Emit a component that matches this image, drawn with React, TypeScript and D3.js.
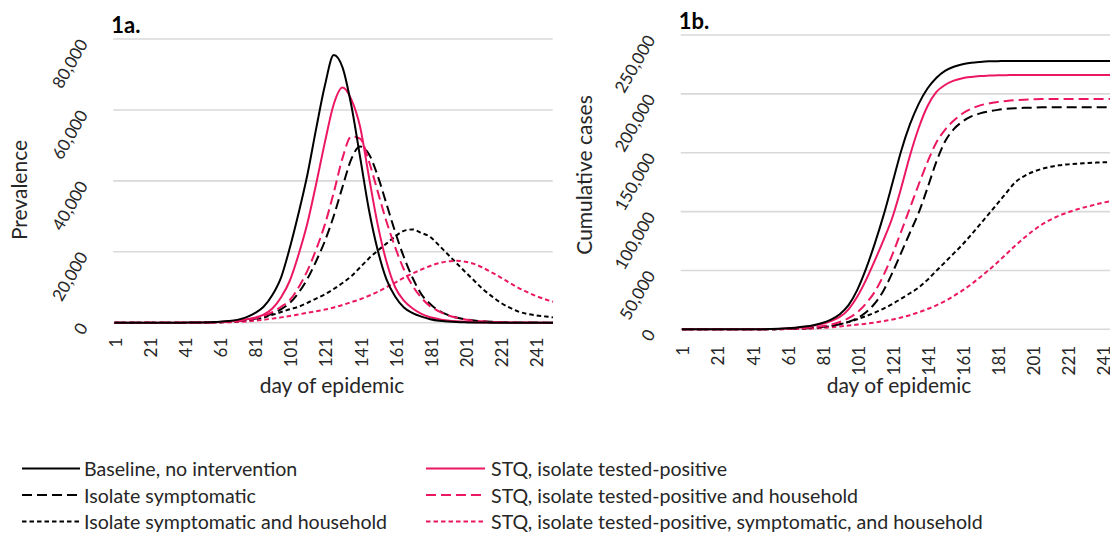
import React from "react";
import * as d3 from "d3";

// ---------- data ----------
const days = [1, 11, 21, 31, 41, 51, 56, 61, 66, 71, 76, 81, 86, 91, 96, 101, 106, 111, 116, 121, 126, 131, 136, 141, 146, 151, 156, 161, 166, 171, 176, 181, 186, 191, 196, 201, 206, 211, 216, 221, 226, 231, 236, 241, 246, 251];

const xTickDays = [1, 21, 41, 61, 81, 101, 121, 141, 161, 181, 201, 221, 241];
const prevTicks = [0, 20000, 40000, 60000, 80000];
const cumTicks = [0, 50000, 100000, 150000, 200000, 250000];

const seriesNames = [
  "Baseline, no intervention",
  "Isolate symptomatic",
  "Isolate symptomatic and household",
  "STQ, isolate tested-positive",
  "STQ, isolate tested-positive and household",
  "STQ, isolate tested-positive, symptomatic, and household",
];

// 1a. Prevalence
const prevBaseline = [0, 0, 0, 0, 20, 80, 150, 250, 450, 800, 1500, 2700, 4500, 7800, 12800, 21200, 31000, 41800, 54800, 67000, 75500, 72000, 61300, 46800, 32000, 20600, 12300, 7400, 4300, 2700, 1700, 1000, 550, 320, 180, 100, 60, 35, 20, 10, 5, 0, 0, 0, 0, 0];
const prevIsoSymp = [0, 0, 0, 0, 10, 40, 80, 150, 250, 400, 650, 1100, 1700, 2600, 3800, 5600, 8500, 12400, 17400, 23100, 30100, 38300, 46100, 49700, 47600, 41500, 33600, 25600, 18500, 12600, 8000, 5300, 3350, 2200, 1450, 950, 620, 400, 260, 170, 110, 70, 45, 30, 20, 10];
const prevIsoSympHH = [0, 0, 0, 0, 5, 30, 60, 120, 220, 380, 620, 950, 1450, 2200, 3000, 3800, 4500, 5600, 6800, 8000, 9500, 11200, 13100, 15600, 18100, 20300, 22300, 24300, 25900, 26300, 25300, 24200, 21800, 19300, 16800, 14300, 11900, 9500, 7500, 5700, 4300, 3200, 2500, 2100, 1800, 1500];
const prevSTQ = [0, 0, 0, 0, 15, 60, 110, 200, 350, 600, 950, 1400, 2300, 4000, 7200, 11900, 19300, 28100, 39200, 51000, 61600, 66300, 63000, 55300, 41300, 27800, 17300, 10000, 6200, 4000, 2500, 1550, 1000, 630, 400, 250, 150, 90, 50, 30, 15, 10, 5, 0, 0, 0];
const prevSTQHH = [0, 0, 0, 0, 10, 40, 80, 150, 260, 430, 700, 1250, 1950, 3000, 4500, 6400, 10000, 14700, 20700, 27800, 36700, 46400, 52500, 51900, 45600, 37100, 28600, 21300, 15000, 10400, 7000, 4600, 3200, 2100, 1400, 900, 600, 380, 240, 150, 90, 60, 35, 20, 10, 5];
const prevSTQAll = [0, 0, 0, 0, 5, 20, 40, 70, 130, 220, 350, 550, 800, 1150, 1500, 1900, 2350, 2800, 3250, 3700, 4300, 5000, 5800, 6600, 7600, 8700, 10000, 11300, 12700, 13900, 15000, 16000, 16800, 17300, 17450, 17200, 16600, 15500, 14200, 12800, 11300, 9900, 8700, 7600, 6700, 5900];

// 1b. Cumulative cases
const cumBaseline = [0, 0, 0, 0, 40, 200, 400, 800, 1400, 2300, 3500, 5300, 8200, 12800, 20500, 33500, 51500, 73000, 97000, 124000, 151500, 174000, 191500, 204500, 213500, 219500, 223000, 225200, 226400, 227100, 227600, 227800, 227900, 228000, 228000, 228000, 228000, 228000, 228000, 228000, 228000, 228000, 228000, 228000, 228000, 228000];
const cumIsoSymp = [0, 0, 0, 0, 15, 80, 160, 300, 520, 850, 1300, 2000, 3000, 4300, 6300, 9500, 14500, 22000, 33000, 48000, 65000, 82000, 99000, 120000, 142000, 159500, 170000, 176500, 180800, 183400, 185100, 186400, 187300, 187800, 188100, 188300, 188600, 188600, 188600, 188600, 188600, 188600, 188600, 188600, 188600, 188600];
const cumIsoSympHH = [0, 0, 0, 0, 10, 60, 120, 250, 450, 750, 1200, 1700, 2800, 4300, 6200, 8500, 11200, 14200, 17600, 21500, 26000, 30600, 35500, 42000, 49600, 57000, 64500, 72000, 80500, 89200, 98000, 106900, 116000, 124800, 130000, 133600, 136200, 138000, 139300, 140100, 140700, 141100, 141500, 141800, 141900, 142000];
const cumSTQ = [0, 0, 0, 0, 30, 170, 350, 700, 1250, 2000, 3100, 4600, 7000, 10500, 17000, 27800, 42000, 58500, 76000, 95000, 120000, 147500, 171000, 189500, 201500, 207500, 211200, 213300, 214400, 215100, 215500, 215800, 215900, 216000, 216000, 216000, 216000, 216000, 216000, 216000, 216000, 216000, 216000, 216000, 216000, 216000];
const cumSTQHH = [0, 0, 0, 0, 25, 120, 230, 420, 700, 1100, 1700, 2600, 4000, 6200, 9500, 14500, 22000, 32000, 46000, 63500, 83000, 103000, 123000, 142000, 158500, 169500, 177300, 183300, 187300, 190200, 191900, 193100, 194000, 194700, 195100, 195400, 195600, 195600, 195600, 195600, 195600, 195600, 195600, 195600, 195600, 195600];
const cumSTQAll = [0, 0, 0, 0, 8, 40, 80, 150, 270, 450, 700, 1100, 1700, 2400, 3200, 4000, 4800, 5800, 7000, 8300, 10000, 12000, 14500, 17200, 20300, 24000, 28300, 33000, 38300, 44200, 50400, 57000, 64000, 71000, 77500, 83500, 88800, 93000, 96500, 99300, 101700, 103800, 105700, 107500, 109000, 110300];

// ---------- styles ----------
const BLACK = "#000000";
const PINK = "#EC1763";
const SOLID = "none";
const LONGDASH = "10,5";
const SHORTDASH = "4.5,3";
const styles = [
  { color: BLACK, dash: SOLID },
  { color: BLACK, dash: LONGDASH },
  { color: BLACK, dash: SHORTDASH },
  { color: PINK, dash: SOLID },
  { color: PINK, dash: LONGDASH },
  { color: PINK, dash: SHORTDASH },
];
const FONT = "Lato, 'Open Sans', sans-serif";
const TEXT = "#262626";
const GRID = "#D9D9D9";

type PanelProps = {
  label: string;
  yTitle: string;
  yTitleX: number;
  yTitleY: number;
  left: number;
  right: number;
  top: number;
  bottom: number;
  yMax: number;
  yTicks: number[];
  series: number[][];
  tickOffset: number;
  titleBaseX: number;
};

function Panel(p: PanelProps) {
  const x = d3.scaleLinear().domain([1, 251]).range([p.left + 1.2, p.left + 1.2 + 250 * 1.754]);
  const y = d3.scaleLinear().domain([0, p.yMax]).range([p.bottom, p.top]);
  const line = d3
    .line<number>()
    .x((_, i) => x(days[i]))
    .y((v) => y(v))
    .curve(d3.curveMonotoneX);
  const fmt = d3.format(",");
  const order = [2, 5, 1, 4, 3, 0];
  return (
    <g>
      <text x={p.left - 2} y={p.top - 6} fontFamily={FONT} fontWeight={700} fontSize={22} fill="#000">
        {p.label}
      </text>
      {p.yTicks.map((t) => (
        <line key={"g" + t} x1={p.left} x2={p.right} y1={y(t)} y2={y(t)} stroke={GRID} strokeWidth={1.6} />
      ))}
      {p.yTicks.map((t) => (
        <text
          key={"yt" + t}
          transform={`translate(${p.left - 30.5},${y(t) + 1.5}) rotate(-60)`}
          textAnchor="end"
          dominantBaseline="central"
          fontFamily={FONT}
          fontSize={17}
          fill={TEXT}
        >
          {fmt(t)}
        </text>
      ))}
      {xTickDays.map((d) => (
        <text
          key={"xt" + d}
          transform={`translate(${x(d) + 1},${p.bottom + p.tickOffset}) rotate(-90)`}
          textAnchor="end"
          dominantBaseline="central"
          fontFamily={FONT}
          fontSize={17}
          fill={TEXT}
        >
          {d}
        </text>
      ))}
      <text
        x={p.titleBaseX}
        y={393}
        textAnchor="middle"
        fontFamily={FONT}
        fontSize={21}
        fill={TEXT}
      >
        day of epidemic
      </text>
      <text
        transform={`translate(${p.yTitleX},${p.yTitleY}) rotate(-90)`}
        textAnchor="middle"
        fontFamily={FONT}
        fontSize={21}
        fill={TEXT}
      >
        {p.yTitle}
      </text>
      {order.map((k) => (
        <path
          key={"s" + k}
          d={line(p.series[k]) || ""}
          fill="none"
          stroke={styles[k].color}
          strokeWidth={2}
          strokeDasharray={styles[k].dash}
        />
      ))}
    </g>
  );
}

function Legend() {
  const rows = [468.5, 495, 521.5];
  const cols = [
    { x1: 22, x2: 80, tx: 84 },
    { x1: 426, x2: 485, tx: 491 },
  ];
  return (
    <g>
      {seriesNames.map((name, i) => {
        const c = cols[Math.floor(i / 3)];
        const ry = rows[i % 3];
        return (
          <g key={name}>
            <line x1={c.x1} x2={c.x2} y1={ry} y2={ry} stroke={styles[i].color} strokeWidth={2} strokeDasharray={styles[i].dash} />
            <text x={c.tx} y={ry} dominantBaseline="central" fontFamily={FONT} fontSize={19.6} fill={TEXT}>
              {name}
            </text>
          </g>
        );
      })}
    </g>
  );
}

export default function App() {
  return (
    <svg
      width={1110}
      height={533}
      viewBox="0 0 1110 533"
      style={{ position: "absolute", left: 0, top: 0, background: "#fff", display: "block" }}
    >
      <rect width={1110} height={533} fill="#fff" />
      <Panel
        label="1a."
        yTitle="Prevalence"
        yTitleX={26.5}
        yTitleY={190}
        left={113.3}
        right={552.7}
        top={39}
        bottom={322.7}
        yMax={80000}
        yTicks={prevTicks}
        series={[prevBaseline, prevIsoSymp, prevIsoSympHH, prevSTQ, prevSTQHH, prevSTQAll]}
        tickOffset={15}
        titleBaseX={332}
      />
      <Panel
        label="1b."
        yTitle="Cumulative cases"
        yTitleX={591.5}
        yTitleY={175}
        left={680.7}
        right={1120}
        top={35}
        bottom={329.3}
        yMax={250000}
        yTicks={cumTicks}
        series={[cumBaseline, cumIsoSymp, cumIsoSympHH, cumSTQ, cumSTQHH, cumSTQAll]}
        tickOffset={16.5}
        titleBaseX={899}
      />
      <Legend />
    </svg>
  );
}
